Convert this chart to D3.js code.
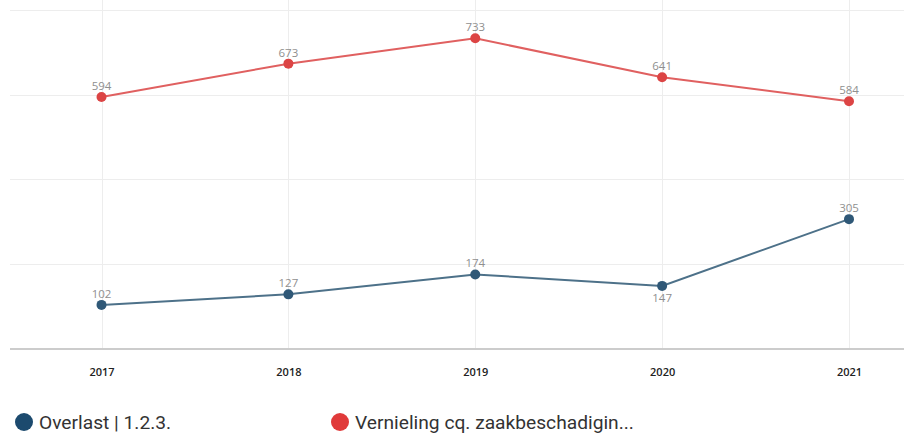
<!DOCTYPE html>
<html><head><meta charset="utf-8">
<script src="https://cdn.jsdelivr.net/npm/d3@7"></script>
<style>
html,body{margin:0;padding:0;background:#fff;}
svg{display:block;}
</style></head>
<body>
<svg id="chart" width="904" height="435"></svg>
<script>
const years = ["2017","2018","2019","2020","2021"];
const overlast = [102,127,174,147,305];
const vernieling = [594,673,733,641,584];
const yTicks = [0,200,400,600,800];
const seriesNames = ["Overlast | 1.2.3.","Vernieling cq. zaakbeschadigin..."];

(function(){
const svg = d3.select("#chart");
const mLeft = 10, mRight = 904, mTop = 10, mBottom = 348;
const x = d3.scalePoint().domain(years).range([101.5, 849]);
const y = d3.scaleLinear().domain([0,800]).range([mBottom, mTop]);

// horizontal gridlines
svg.append("g").selectAll("line").data(yTicks.slice(1)).join("line")
  .attr("x1", mLeft).attr("x2", mRight)
  .attr("y1", d => Math.round(y(d))+0.5).attr("y2", d => Math.round(y(d))+0.5)
  .attr("stroke", "#ededed").attr("stroke-width", 1);
// vertical gridlines
svg.append("g").selectAll("line").data(years).join("line")
  .attr("x1", d => Math.round(x(d))+0.5).attr("x2", d => Math.round(x(d))+0.5)
  .attr("y1", 0).attr("y2", mBottom)
  .attr("stroke", "#ededed").attr("stroke-width", 1);

// x axis
const xAxis = svg.append("g").attr("transform", `translate(0,${mBottom})`)
  .call(d3.axisBottom(x).tickSize(0).tickPadding(20));
xAxis.select(".domain").remove();
xAxis.selectAll("text").attr("font-family","'Open Sans',sans-serif").attr("font-size",11)
  .attr("fill","#222").attr("font-weight",600);
svg.append("line").attr("x1",mLeft).attr("x2",mRight).attr("y1",mBottom+1).attr("y2",mBottom+1)
  .attr("stroke","#cccccc").attr("stroke-width",2);

const series = [
  {name: seriesNames[0], values: overlast, line:"#4d7189", dot:"#2f5877", legend:"#1c4a6e"},
  {name: seriesNames[1], values: vernieling, line:"#e06060", dot:"#dc4444", legend:"#e03a3a"}
];
const lineGen = d3.line().x((d,i)=>x(years[i])).y(d=>y(d));
series.forEach(s => {
  svg.append("path").datum(s.values).attr("d", lineGen)
    .attr("fill","none").attr("stroke", s.line).attr("stroke-width", 2);
  svg.append("g").selectAll("circle").data(s.values).join("circle")
    .attr("cx",(d,i)=>x(years[i])).attr("cy", d=>y(d)).attr("r",5).attr("fill", s.dot);
  svg.append("g").selectAll("text").data(s.values).join("text")
    .attr("x",(d,i)=>x(years[i]))
    .attr("y",(d,i)=> (s === series[0] && i===3) ? y(d)+16 : y(d)-7)
    .attr("text-anchor","middle")
    .attr("font-family","'Open Sans',sans-serif").attr("font-size",11.5)
    .attr("fill","#8f8f8f").text(d=>d);
});

// legend
const legendX = [24, 340];
series.forEach((s,i) => {
  const g = svg.append("g").attr("transform",`translate(${legendX[i]},422)`);
  g.append("circle").attr("r",9).attr("fill",s.legend);
  g.append("text").attr("x",15).attr("y",7).attr("font-family","Roboto,sans-serif")
    .attr("font-size",19.2).attr("fill","#333").text(s.name);
});
})();
</script>
</body></html>
